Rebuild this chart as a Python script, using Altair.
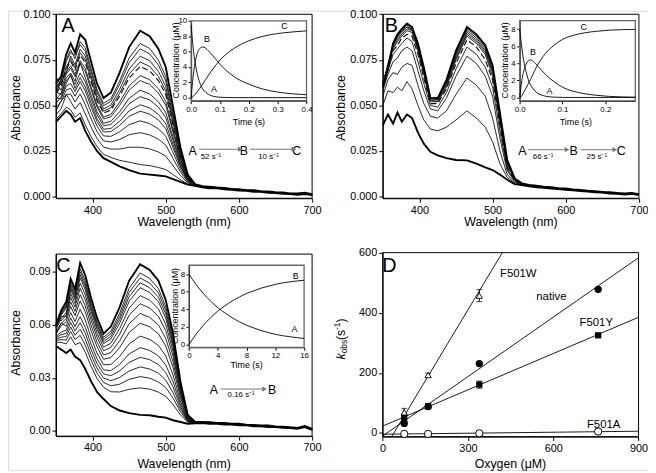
import altair as alt
import pandas as pd

# ======================= DATA =======================
WL_HEAD = [350, 357, 364, 370, 376, 383, 390, 398, 406, 415, 425, 437, 450, 465, 478, 490, 500, 510, 520, 530]
WL_TAIL = [540, 550, 560, 570, 580, 590, 600, 610, 620, 630, 640, 650, 660, 670, 680, 690, 700]

# ---- panel A spectra (bottom -> top) ----
A_TAIL = [0.0062, 0.0053, 0.0049, 0.0047, 0.0043, 0.0040, 0.0036, 0.0033, 0.0030, 0.0027, 0.0024, 0.0021, 0.0018, 0.0015, 0.0012, 0.0016, 0.0010]
A_TAIL_TOP = [0.0068, 0.0056, 0.0054, 0.0049, 0.0047, 0.0041, 0.0040, 0.0035, 0.0034, 0.0029, 0.0028, 0.0023, 0.0022, 0.0017, 0.0016, 0.0020, 0.0012]
A_TAIL_LOW = [0.0058, 0.0050, 0.0044, 0.0045, 0.0039, 0.0037, 0.0032, 0.0031, 0.0026, 0.0025, 0.0020, 0.0019, 0.0014, 0.0013, 0.0009, 0.0013, 0.0007]
A_CURVES = [
    [0.041, 0.044, 0.047, 0.045, 0.041, 0.043, 0.036, 0.030, 0.025, 0.021, 0.019, 0.0165, 0.0145, 0.0125, 0.012, 0.0115, 0.011, 0.0095, 0.008, 0.0065],
    [0.0423, 0.0454, 0.049, 0.0475, 0.0434, 0.0459, 0.0392, 0.0328, 0.0274, 0.0231, 0.0214, 0.0198, 0.0188, 0.0175, 0.0169, 0.0159, 0.0148, 0.012, 0.0092, 0.0069],
    [0.0449, 0.0481, 0.056, 0.0522, 0.048, 0.0515, 0.0453, 0.0381, 0.0318, 0.0271, 0.026, 0.026, 0.027, 0.027, 0.0261, 0.0244, 0.0221, 0.0168, 0.0115, 0.0075],
    [0.047, 0.0525, 0.0559, 0.0562, 0.0519, 0.0562, 0.0504, 0.0426, 0.0356, 0.0305, 0.0299, 0.0313, 0.0339, 0.035, 0.0338, 0.0314, 0.0282, 0.0208, 0.0135, 0.0081],
    [0.0487, 0.0521, 0.0584, 0.0594, 0.055, 0.060, 0.0545, 0.0462, 0.0387, 0.0332, 0.033, 0.0355, 0.0394, 0.0415, 0.040, 0.0371, 0.0331, 0.0241, 0.015, 0.0085],
    [0.054, 0.0536, 0.0605, 0.062, 0.0576, 0.0631, 0.0579, 0.0492, 0.0412, 0.0354, 0.0356, 0.039, 0.044, 0.0468, 0.0452, 0.0419, 0.0372, 0.0268, 0.0163, 0.0089],
    [0.0511, 0.0546, 0.0619, 0.067, 0.0593, 0.0652, 0.0601, 0.0512, 0.0428, 0.0369, 0.0373, 0.0413, 0.047, 0.0503, 0.0486, 0.045, 0.0399, 0.0285, 0.0172, 0.0092],
    [0.0575, 0.0559, 0.0637, 0.066, 0.0615, 0.0678, 0.063, 0.0537, 0.0449, 0.0388, 0.0395, 0.0443, 0.0509, 0.0548, 0.053, 0.049, 0.0433, 0.0308, 0.0182, 0.0095],
    [0.0532, 0.0568, 0.0651, 0.0677, 0.0632, 0.0735, 0.0652, 0.0557, 0.0466, 0.0402, 0.0412, 0.0465, 0.0539, 0.0583, 0.0563, 0.052, 0.046, 0.0325, 0.0191, 0.0097],
    [0.0625, 0.0583, 0.0672, 0.0704, 0.0657, 0.0729, 0.0686, 0.0586, 0.0491, 0.0425, 0.0437, 0.050, 0.0584, 0.0636, 0.0615, 0.0567, 0.0501, 0.0352, 0.0204, 0.0101],
    [0.0554, 0.065, 0.0682, 0.0717, 0.067, 0.0745, 0.0703, 0.0601, 0.0503, 0.0436, 0.045, 0.0518, 0.0607, 0.0663, 0.0641, 0.0591, 0.0521, 0.0366, 0.021, 0.0103],
    [0.0567, 0.0605, 0.0702, 0.0742, 0.0695, 0.0775, 0.0735, 0.063, 0.0527, 0.0457, 0.0475, 0.0551, 0.0651, 0.0713, 0.0689, 0.0636, 0.0559, 0.0391, 0.0222, 0.0106],
    [0.0655, 0.0612, 0.0712, 0.0755, 0.0707, 0.0789, 0.0751, 0.0644, 0.0539, 0.0468, 0.0487, 0.0567, 0.0672, 0.0738, 0.0714, 0.0658, 0.0579, 0.0403, 0.0228, 0.0108],
    [0.0583, 0.0621, 0.068, 0.0771, 0.0722, 0.0808, 0.0771, 0.0662, 0.0554, 0.0481, 0.0502, 0.0588, 0.070, 0.077, 0.0745, 0.0686, 0.0603, 0.042, 0.0236, 0.011],
    [0.0593, 0.0632, 0.0741, 0.079, 0.0775, 0.0832, 0.0797, 0.0684, 0.0573, 0.0498, 0.0522, 0.0615, 0.0734, 0.081, 0.0783, 0.0722, 0.0634, 0.044, 0.0246, 0.0113],
    [0.0601, 0.064, 0.0752, 0.0805, 0.0756, 0.0849, 0.0816, 0.0701, 0.0587, 0.0511, 0.0536, 0.0634, 0.076, 0.084, 0.0812, 0.0748, 0.0657, 0.0455, 0.0253, 0.0115],
    [0.062, 0.066, 0.078, 0.084, 0.079, 0.089, 0.086, 0.074, 0.062, 0.054, 0.057, 0.068, 0.082, 0.091, 0.088, 0.081, 0.071, 0.049, 0.027, 0.012],
]
A_THICK = [0, 16]
A_DASHED = [11]

# ---- panel B spectra (bottom -> top) ----
B_TAIL = [0.0066, 0.0059, 0.0054, 0.0051, 0.0047, 0.0044, 0.0040, 0.0036, 0.0032, 0.0029, 0.0026, 0.0023, 0.0020, 0.0017, 0.0014, 0.0016, 0.0010]
B_TAIL_TOP = [0.0072, 0.0063, 0.0059, 0.0054, 0.0051, 0.0046, 0.0044, 0.0039, 0.0036, 0.0031, 0.0029, 0.0025, 0.0023, 0.0019, 0.0017, 0.0019, 0.0012]
B_TAIL_LOW = [0.0062, 0.0056, 0.0050, 0.0048, 0.0043, 0.0041, 0.0036, 0.0034, 0.0029, 0.0027, 0.0022, 0.0021, 0.0016, 0.0015, 0.0011, 0.0014, 0.0008]
B_CURVES = [
    [0.039, 0.045, 0.040, 0.046, 0.041, 0.045, 0.043, 0.035, 0.029, 0.0245, 0.0225, 0.021, 0.020, 0.0198, 0.018, 0.016, 0.0145, 0.012, 0.0092, 0.0068],
    [0.050, 0.058, 0.057, 0.060, 0.058, 0.063, 0.059, 0.050, 0.042, 0.037, 0.036, 0.038, 0.042, 0.047, 0.043, 0.038, 0.030, 0.018, 0.0105, 0.0075],
    [0.055, 0.064, 0.068, 0.067, 0.071, 0.073, 0.072, 0.061, 0.051, 0.044, 0.043, 0.047, 0.056, 0.065, 0.061, 0.055, 0.043, 0.025, 0.012, 0.008],
    [0.058, 0.067, 0.074, 0.076, 0.080, 0.082, 0.080, 0.069, 0.058, 0.048, 0.047, 0.054, 0.066, 0.077, 0.073, 0.066, 0.055, 0.032, 0.014, 0.0085],
    [0.060, 0.069, 0.078, 0.081, 0.084, 0.087, 0.085, 0.074, 0.062, 0.050, 0.049, 0.057, 0.070, 0.082, 0.078, 0.071, 0.060, 0.036, 0.015, 0.009],
    [0.061, 0.070, 0.080, 0.083, 0.087, 0.089, 0.088, 0.078, 0.065, 0.051, 0.051, 0.059, 0.073, 0.086, 0.082, 0.075, 0.064, 0.039, 0.016, 0.009],
    [0.062, 0.071, 0.081, 0.085, 0.088, 0.091, 0.090, 0.080, 0.067, 0.052, 0.052, 0.060, 0.075, 0.088, 0.084, 0.078, 0.066, 0.041, 0.017, 0.0095],
    [0.060, 0.072, 0.082, 0.086, 0.089, 0.092, 0.091, 0.081, 0.068, 0.053, 0.052, 0.061, 0.076, 0.089, 0.085, 0.079, 0.068, 0.042, 0.018, 0.0095],
    [0.063, 0.071, 0.083, 0.087, 0.090, 0.093, 0.091, 0.082, 0.069, 0.053, 0.053, 0.062, 0.077, 0.090, 0.086, 0.080, 0.069, 0.043, 0.0185, 0.0098],
    [0.061, 0.073, 0.083, 0.088, 0.091, 0.093, 0.092, 0.082, 0.069, 0.054, 0.053, 0.062, 0.078, 0.091, 0.087, 0.081, 0.070, 0.044, 0.019, 0.010],
    [0.062, 0.072, 0.084, 0.088, 0.091, 0.094, 0.092, 0.083, 0.070, 0.054, 0.054, 0.063, 0.079, 0.092, 0.088, 0.082, 0.071, 0.045, 0.0195, 0.010],
    [0.060, 0.070, 0.084, 0.089, 0.092, 0.095, 0.093, 0.084, 0.071, 0.054, 0.054, 0.064, 0.080, 0.093, 0.089, 0.083, 0.072, 0.046, 0.020, 0.010],
]
B_THICK = [0, 11]
B_DASHED = [5]

# ---- panel C spectra (bottom -> top) ----
C_TAIL = [0.0046, 0.0047, 0.0044, 0.0042, 0.0040, 0.0037, 0.0035, 0.0033, 0.0030, 0.0028, 0.0026, 0.0023, 0.0020, 0.0018, 0.0014, 0.0024, 0.0008]
C_TAIL_TOP = [0.0052, 0.0051, 0.0049, 0.0045, 0.0045, 0.0040, 0.0040, 0.0035, 0.0034, 0.0030, 0.0030, 0.0025, 0.0024, 0.0020, 0.0017, 0.0028, 0.0011]
C_TAIL_LOW = [0.0043, 0.0044, 0.0040, 0.0040, 0.0036, 0.0035, 0.0031, 0.0031, 0.0026, 0.0026, 0.0022, 0.0021, 0.0017, 0.0016, 0.0011, 0.0021, 0.0006]
C_CURVES = [
    [0.048, 0.046, 0.044, 0.046, 0.042, 0.040, 0.035, 0.028, 0.022, 0.018, 0.014, 0.0115, 0.010, 0.009, 0.0088, 0.008, 0.0075, 0.006, 0.005, 0.004],
    [0.0502, 0.050, 0.0492, 0.0532, 0.0488, 0.0499, 0.0445, 0.0365, 0.0296, 0.0247, 0.0221, 0.022, 0.0235, 0.0243, 0.0236, 0.0219, 0.0195, 0.0148, 0.0091, 0.0049],
    [0.0511, 0.0516, 0.0514, 0.0562, 0.0517, 0.054, 0.0485, 0.040, 0.0327, 0.0274, 0.0255, 0.0264, 0.0291, 0.0307, 0.0298, 0.0276, 0.0245, 0.0185, 0.0109, 0.0053],
    [0.0518, 0.053, 0.0533, 0.0588, 0.0541, 0.0575, 0.0519, 0.043, 0.0354, 0.0298, 0.0284, 0.0302, 0.0339, 0.0362, 0.035, 0.0326, 0.0287, 0.0216, 0.0123, 0.0056],
    [0.0526, 0.0544, 0.0551, 0.0613, 0.0566, 0.0611, 0.0553, 0.046, 0.0381, 0.0322, 0.0312, 0.0339, 0.0387, 0.0416, 0.0403, 0.0375, 0.033, 0.0248, 0.0138, 0.0059],
    [0.0534, 0.0558, 0.057, 0.0639, 0.059, 0.0646, 0.0587, 0.049, 0.0408, 0.0345, 0.0341, 0.0376, 0.0435, 0.0471, 0.0455, 0.0424, 0.0372, 0.0279, 0.0153, 0.0062],
    [0.0543, 0.061, 0.0592, 0.0669, 0.0619, 0.0688, 0.0627, 0.0526, 0.044, 0.0374, 0.0375, 0.0421, 0.0492, 0.0536, 0.0518, 0.0483, 0.0423, 0.0316, 0.017, 0.0066],
    [0.0553, 0.0594, 0.0617, 0.0704, 0.0651, 0.0735, 0.0673, 0.0566, 0.0476, 0.0405, 0.0414, 0.0471, 0.0557, 0.0609, 0.0589, 0.0549, 0.048, 0.0358, 0.019, 0.007],
    [0.0561, 0.0608, 0.0635, 0.073, 0.0676, 0.0771, 0.0707, 0.0597, 0.0503, 0.0429, 0.0443, 0.0509, 0.0606, 0.0664, 0.0642, 0.0599, 0.0523, 0.039, 0.0205, 0.0074],
    [0.064, 0.0622, 0.0654, 0.0755, 0.070, 0.0806, 0.0741, 0.0627, 0.053, 0.0453, 0.0472, 0.0547, 0.0654, 0.0719, 0.0695, 0.0648, 0.0566, 0.0422, 0.022, 0.0077],
    [0.0575, 0.0634, 0.067, 0.0777, 0.0721, 0.0836, 0.077, 0.0652, 0.0553, 0.0473, 0.0496, 0.0578, 0.0694, 0.0765, 0.0739, 0.069, 0.0602, 0.0448, 0.0232, 0.008],
    [0.0581, 0.0646, 0.065, 0.0798, 0.0741, 0.0865, 0.0798, 0.0677, 0.0575, 0.0493, 0.052, 0.0609, 0.0734, 0.081, 0.0783, 0.0731, 0.0637, 0.0474, 0.0244, 0.0082],
    [0.0585, 0.0653, 0.0695, 0.0811, 0.0754, 0.0883, 0.0815, 0.0693, 0.0589, 0.0505, 0.0535, 0.0629, 0.0759, 0.0838, 0.081, 0.0756, 0.0659, 0.049, 0.0252, 0.0084],
    [0.0589, 0.066, 0.0704, 0.0824, 0.0766, 0.090, 0.0832, 0.0708, 0.0602, 0.0517, 0.055, 0.0647, 0.0783, 0.0865, 0.0836, 0.0781, 0.068, 0.0506, 0.0259, 0.0086],
    [0.0593, 0.0667, 0.0713, 0.0837, 0.0778, 0.0918, 0.0849, 0.0723, 0.0616, 0.0529, 0.0564, 0.0666, 0.0807, 0.0893, 0.0862, 0.0805, 0.0701, 0.0522, 0.0267, 0.0087],
    [0.060, 0.068, 0.073, 0.086, 0.080, 0.095, 0.088, 0.075, 0.064, 0.055, 0.059, 0.070, 0.085, 0.0942, 0.091, 0.085, 0.074, 0.055, 0.028, 0.009],
]
C_THICK = [0, 15]
C_DASHED = []

# ---- insets: concentration (uM) vs time (s) ----
INSET_A_TIME = [0, 0.005, 0.01, 0.015, 0.02, 0.03, 0.04, 0.05, 0.06, 0.07, 0.08, 0.1, 0.12, 0.15, 0.2, 0.25, 0.3, 0.35, 0.4]
INSET_A_A = [9.5, 7.3, 5.6, 4.3, 3.3, 1.95, 1.15, 0.7, 0.42, 0.25, 0.15, 0.05, 0.02, 0, 0, 0, 0, 0, 0]
INSET_A_B = [0, 2.1, 3.7, 4.8, 5.6, 6.4, 6.6, 6.45, 6.1, 5.7, 5.25, 4.35, 3.6, 2.7, 1.75, 1.1, 0.72, 0.5, 0.38]
INSET_A_C = [0, 0.1, 0.25, 0.45, 0.7, 1.2, 1.75, 2.35, 2.9, 3.45, 3.95, 4.9, 5.6, 6.45, 7.4, 8.0, 8.35, 8.55, 8.7]

INSET_B_TIME = [0, 0.005, 0.01, 0.015, 0.02, 0.025, 0.03, 0.04, 0.05, 0.06, 0.08, 0.1, 0.12, 0.15, 0.18, 0.21, 0.24, 0.27]
INSET_B_A = [8.0, 5.8, 4.1, 3.0, 2.1, 1.5, 1.1, 0.55, 0.3, 0.15, 0.04, 0.01, 0, 0, 0, 0, 0, 0]
INSET_B_B = [0, 2.0, 3.2, 3.9, 4.3, 4.4, 4.3, 3.8, 3.25, 2.7, 1.85, 1.2, 0.8, 0.45, 0.25, 0.12, 0.06, 0.03]
INSET_B_C = [0, 0.2, 0.7, 1.1, 1.6, 2.1, 2.6, 3.65, 4.45, 5.15, 6.1, 6.8, 7.2, 7.55, 7.75, 7.88, 7.94, 7.97]

INSET_C_TIME = [0, 1, 2, 3, 4, 5, 6, 7, 8, 9, 10, 11, 12, 13, 14, 15, 16]
INSET_C_A = [8.0, 6.8, 5.8, 4.95, 4.2, 3.6, 3.05, 2.6, 2.2, 1.9, 1.6, 1.38, 1.17, 1.02, 0.9, 0.8, 0.7]
INSET_C_B = [0, 1.2, 2.2, 3.05, 3.8, 4.4, 4.95, 5.4, 5.8, 6.1, 6.4, 6.62, 6.83, 7.0, 7.12, 7.22, 7.3]

# ---- panel D: kobs (s-1) vs oxygen (uM) ----
OXYGEN = [76, 160, 340, 758]
K_NATIVE = [32, 88, 231, 478]
K_F501Y = [51, 89, 161, 325]
ERR_F501Y = [13, 5, 12, 4]
OXYGEN_W = [76, 160, 340]
K_F501W = [69, 193, 457]
ERR_F501W = [13, 6, 20]
K_F501A = [-3, -3, -1, 5]
FIT_SERIES = ["F501W", "native", "F501Y", "F501A"]
FIT_OXYGEN = [[32, 421], [0, 900], [0, 900], [0, 900]]
FIT_K = [[-12, 600], [-10, 583], [23, 385], [-4, 6]]

# ======================= LAYOUT =======================
W, H = 648, 465
SX, SY = W / 656.0, H / 473.0
FONT = "Liberation Sans"


def X(v):
    return v * SX


def Y(v):
    return v * SY


PANEL_A = dict(xd=[350, 700], xr=[49.2, 311.7], yd=[-0.001, 0.1], yr=[3.5, 193])
PANEL_B = dict(xd=[350, 700], xr=[384.2, 646.7], yd=[-0.001, 0.1], yr=[3.5, 193])
PANEL_C = dict(xd=[350, 700], xr=[49.2, 311.7], yd=[-0.003, 0.1], yr=[250.5, 438])
PANEL_D = dict(xd=[0, 900], xr=[384, 646.3], yd=[-12, 600], yr=[249, 438.5])
INSET_A = dict(xd=[0, 0.4], xr=[187.7, 306], yd=[-0.4, 10], yr=[10.3, 92.5])
INSET_B = dict(xd=[0, 0.27], xr=[524.5, 643], yd=[-0.4, 9], yr=[10, 92.7])
INSET_C = dict(xd=[0, 16], xr=[185.5, 303.5], yd=[-0.3, 9], yr=[262, 346.5])


def xscale(p):
    return alt.Scale(domain=p["xd"], range=[X(p["xr"][0]), X(p["xr"][1])], nice=False, zero=False)


def yscale(p):
    return alt.Scale(domain=p["yd"], range=[Y(p["yr"][1]), Y(p["yr"][0])], nice=False, zero=False)


def frame(p, xvals, yvals, xfmt, yfmt, inset=False):
    df = pd.DataFrame({"x0": [p["xd"][0]], "x1": [p["xd"][1]], "y0": [p["yd"][0]], "y1": [p["yd"][1]]})
    fs = 8 if inset else 11
    ts = 3 if inset else 4
    pad = 1.5 if inset else 2
    common = dict(grid=False, title=None, labelFont=FONT, labelFontSize=fs, labelColor="black",
                  tickSize=ts, tickColor="black", tickWidth=1, domainColor="black", domainWidth=1,
                  labelPadding=pad, labelFlush=False, labelOverlap=False)
    xaxis = alt.Axis(orient="bottom", offset=Y(p["yr"][1]) - H, values=xvals, format=xfmt, **common)
    yaxis = alt.Axis(orient="left", offset=-X(p["xr"][0]), values=yvals, format=yfmt, **common)
    return alt.Chart(df).mark_rect(fillOpacity=0, stroke="#666" if inset else "black",
                                   strokeWidth=1.3 if inset else 1).encode(
        x=alt.X("x0:Q", scale=xscale(p), axis=xaxis), x2="x1:Q",
        y=alt.Y("y0:Q", scale=yscale(p), axis=yaxis), y2="y1:Q")


def spectra(p, curves, tail, tail_top, tail_low, thick, dashed):
    rows = []
    last = len(curves) - 1
    for i, head in enumerate(curves):
        t = tail_top if i == last else (tail_low if i == 0 else tail)
        kind = "thick" if i in thick else ("dashed" if i in dashed else "thin")
        for w, v in zip(WL_HEAD + WL_TAIL, head + t):
            rows.append(dict(wl=w, a=v, c=i, kind=kind))
    df = pd.DataFrame(rows)
    enc = dict(x=alt.X("wl:Q", scale=xscale(p), axis=None),
               y=alt.Y("a:Q", scale=yscale(p), axis=None), detail="c:N")
    out = [alt.Chart(df[df.kind == "thin"]).mark_line(color="#111", strokeWidth=0.9).encode(**enc)]
    if dashed:
        out.append(alt.Chart(df[df.kind == "dashed"]).mark_line(color="#111", strokeWidth=1.2,
                                                                 strokeDash=[6, 3]).encode(**enc))
    out.append(alt.Chart(df[df.kind == "thick"]).mark_line(color="black", strokeWidth=1.9).encode(**enc))
    return out


def inset_lines(p, t, series):
    rows = [dict(t=tt, v=vv, s=name) for name, vals in series for tt, vv in zip(t, vals)]
    return alt.Chart(pd.DataFrame(rows)).mark_line(color="black", strokeWidth=0.9, interpolate="monotone").encode(
        x=alt.X("t:Q", scale=xscale(p), axis=None), y=alt.Y("v:Q", scale=yscale(p), axis=None), detail="s:N")


CANVAS_X = alt.Scale(domain=[0, 656], range=[0, W], nice=False, zero=False)
CANVAS_Y = alt.Scale(domain=[0, 473], range=[0, H], nice=False, zero=False)


def texts(items, size, angle=0, style="normal", align="center", baseline="middle"):
    df = pd.DataFrame(items, columns=["t", "px", "py"])
    return alt.Chart(df).mark_text(font=FONT, fontSize=size, angle=angle, fontStyle=style, align=align,
                                   baseline=baseline, color="black").encode(
        x=alt.X("px:Q", scale=CANVAS_X, axis=None), y=alt.Y("py:Q", scale=CANVAS_Y, axis=None), text="t:N")


def arrows(items):
    df = pd.DataFrame(items, columns=["x0", "x1", "py"])
    shaft = alt.Chart(df).mark_rule(color="#777", strokeWidth=1).encode(
        x=alt.X("x0:Q", scale=CANVAS_X, axis=None), x2="x1:Q", y=alt.Y("py:Q", scale=CANVAS_Y, axis=None))
    head = alt.Chart(df).mark_point(shape="triangle-right", filled=True, size=28, color="#777", opacity=1).encode(
        x=alt.X("x1:Q", scale=CANVAS_X, axis=None), y=alt.Y("py:Q", scale=CANVAS_Y, axis=None))
    return [shaft, head]


layers = []

# ---- frames + axes ----
layers.append(frame(PANEL_A, [400, 500, 600, 700], [0, 0.025, 0.05, 0.075, 0.1], "d", ".3f"))
layers.append(frame(PANEL_B, [400, 500, 600, 700], [0, 0.025, 0.05, 0.075, 0.1], "d", ".3f"))
layers.append(frame(PANEL_C, [400, 500, 600, 700], [0, 0.03, 0.06, 0.09], "d", ".2f"))
layers.append(frame(PANEL_D, [0, 300, 600, 900], [0, 200, 400, 600], "d", "d"))

# ---- spectra ----
layers += spectra(PANEL_A, A_CURVES, A_TAIL, A_TAIL_TOP, A_TAIL_LOW, A_THICK, A_DASHED)
layers += spectra(PANEL_B, B_CURVES, B_TAIL, B_TAIL_TOP, B_TAIL_LOW, B_THICK, B_DASHED)
layers += spectra(PANEL_C, C_CURVES, C_TAIL, C_TAIL_TOP, C_TAIL_LOW, C_THICK, C_DASHED)

# ---- insets ----
layers.append(frame(INSET_A, [0, 0.1, 0.2, 0.3, 0.4], [0, 2, 4, 6, 8, 10], ".1f", "d", inset=True))
layers.append(frame(INSET_B, [0, 0.1, 0.2], [0, 2, 4, 6, 8], ".1f", "d", inset=True))
layers.append(frame(INSET_C, [0, 4, 8, 12, 16], [0, 2, 4, 6, 8], "d", "d", inset=True))
layers.append(inset_lines(INSET_A, INSET_A_TIME, [("A", INSET_A_A), ("B", INSET_A_B), ("C", INSET_A_C)]))
layers.append(inset_lines(INSET_B, INSET_B_TIME, [("A", INSET_B_A), ("B", INSET_B_B), ("C", INSET_B_C)]))
layers.append(inset_lines(INSET_C, INSET_C_TIME, [("A", INSET_C_A), ("B", INSET_C_B)]))

# ---- panel D ----
dx = alt.X("o:Q", scale=xscale(PANEL_D), axis=None)
dy = alt.Y("k:Q", scale=yscale(PANEL_D), axis=None)
fit_rows = [dict(o=o, k=k, s=name) for name, os_, ks in zip(FIT_SERIES, FIT_OXYGEN, FIT_K) for o, k in zip(os_, ks)]
layers.append(alt.Chart(pd.DataFrame(fit_rows)).mark_line(color="black", strokeWidth=0.9).encode(x=dx, y=dy, detail="s:N"))

err_rows = [dict(o=o, k=k, lo=k - e, hi=k + e) for o, k, e in zip(OXYGEN_W, K_F501W, ERR_F501W)]
err_rows += [dict(o=o, k=k, lo=k - e, hi=k + e) for o, k, e in zip(OXYGEN, K_F501Y, ERR_F501Y)]
err_df = pd.DataFrame(err_rows)
layers.append(alt.Chart(err_df).mark_rule(color="black", strokeWidth=1).encode(
    x=dx, y=alt.Y("lo:Q", scale=yscale(PANEL_D), axis=None), y2="hi:Q"))
layers.append(alt.Chart(err_df).mark_tick(color="black", orient="horizontal", size=6, thickness=1).encode(
    x=dx, y=alt.Y("lo:Q", scale=yscale(PANEL_D), axis=None)))
layers.append(alt.Chart(err_df).mark_tick(color="black", orient="horizontal", size=6, thickness=1).encode(
    x=dx, y=alt.Y("hi:Q", scale=yscale(PANEL_D), axis=None)))

layers.append(alt.Chart(pd.DataFrame(dict(o=OXYGEN, k=K_F501Y))).mark_point(
    shape="square", filled=True, color="black", size=40, opacity=1).encode(x=dx, y=dy))
layers.append(alt.Chart(pd.DataFrame(dict(o=OXYGEN, k=K_NATIVE))).mark_point(
    shape="circle", filled=True, color="black", size=55, opacity=1).encode(x=dx, y=dy))
layers.append(alt.Chart(pd.DataFrame(dict(o=OXYGEN_W, k=K_F501W))).mark_point(
    shape="triangle-up", filled=True, fill="white", stroke="black", strokeWidth=0.9, size=40, opacity=1).encode(x=dx, y=dy))
layers.append(alt.Chart(pd.DataFrame(dict(o=OXYGEN, k=K_F501A))).mark_point(
    shape="circle", filled=True, fill="white", stroke="black", strokeWidth=1, size=55, opacity=1).encode(x=dx, y=dy))

# ---- annotations ----
layers.append(texts([("A", 61.5, 15.5), ("B", 393, 15.5), ("C", 56.7, 262.5), ("D", 391, 263)], 20))
layers.append(texts([("Wavelength (nm)", 180.5, 217), ("Wavelength (nm)", 515.5, 217),
                     ("Wavelength (nm)", 180.5, 466.5), ("Oxygen (μM)", 515, 466.5)], 12.5))
layers.append(texts([("Absorbance", 8, 100), ("Absorbance", 341.5, 100), ("Absorbance", 8, 342)], 12.5, angle=270))
layers.append(texts([("Time (s)", 247, 115), ("Time (s)", 582, 115), ("Time (s)", 244.5, 365)], 9))
layers.append(texts([("Concentration (μM)", 172, 51), ("Concentration (μM)", 509.5, 51),
                     ("Concentration (μM)", 171.5, 304)], 9, angle=270))
layers.append(texts([("C", 283.3, 15.5), ("B", 204, 29.5), ("A", 211, 80),
                     ("C", 590, 17), ("B", 538, 42), ("A", 555, 83),
                     ("B", 295, 273), ("A", 293.5, 328)], 9))
layers.append(texts([("A", 189.3, 144), ("B", 241.7, 144), ("C", 296, 144),
                     ("A", 527.3, 144.5), ("B", 579.7, 144.5), ("C", 628.5, 144.5),
                     ("A", 211, 390.5), ("B", 270.7, 390.5)], 12.5))
layers.append(texts([("52 s⁻¹", 208, 150.5), ("10 s⁻¹", 267, 150.5), ("66 s⁻¹", 548.5, 151),
                     ("25 s⁻¹", 603.5, 151), ("0.16 s⁻¹", 239, 396)], 8))
layers += arrows([(196, 238, 142.5), (248, 293, 142.5), (533, 573, 143), (587, 622, 143), (218, 263, 389.5)])
layers.append(texts([("F501W", 523, 271), ("native", 557, 295), ("F501Y", 603, 321.5), ("F501A", 610.5, 426.5)], 11.5))
# k_obs (s^-1) axis title, built from pieces
layers.append(texts([("k", 341, 359)], 12.5, angle=270, style="italic", align="left"))
layers.append(texts([("obs", 344.5, 352.7)], 8.5, angle=270, align="left"))
layers.append(texts([("(s", 341, 339), (")", 341, 321)], 12.5, angle=270, align="left"))
layers.append(texts([("-1", 337, 328.6)], 8.5, angle=270, align="left"))

chart = alt.layer(*layers).resolve_scale(x="independent", y="independent").properties(
    width=W, height=H, autosize=alt.AutoSizeParams(type="none"), padding=0
).configure_view(stroke=None).configure(font=FONT)

chart.save("out.html", embed_options={"renderer": "svg", "actions": False})
